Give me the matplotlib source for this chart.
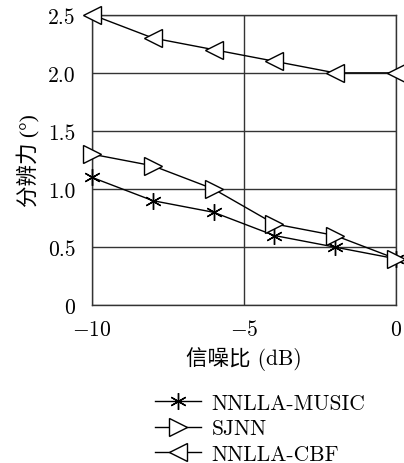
import numpy as np
import matplotlib
matplotlib.use('Agg')
import matplotlib.pyplot as plt

plt.rcParams['font.family'] = ['cmr10', 'Noto Sans CJK SC']
plt.rcParams['mathtext.fontset'] = 'cm'
plt.rcParams['axes.formatter.use_mathtext'] = True
plt.rcParams['axes.unicode_minus'] = True

# Data
snr = [-10, -8, -6, -4, -2, 0]
music = [1.1, 0.9, 0.8, 0.6, 0.5, 0.4]
sjnn = [1.3, 1.2, 1.0, 0.7, 0.6, 0.4]
cbf = [2.5, 2.3, 2.2, 2.1, 2.0, 2.0]

xticks = [-10, -5, 0]
yticks = [0, 0.5, 1.0, 1.5, 2.0, 2.5]
ytick_labels = ['0', '0.5', '1.0', '1.5', '2.0', '2.5']

fig = plt.figure(figsize=(4.04, 4.64), dpi=100)
ax = fig.add_axes([0.228, 0.34, 0.752, 0.626])

lw = 1.0
ax.plot(snr, music, color='black', lw=lw, marker=(6, 2, 0), ms=12,
        mew=1.0, label='NNLLA-MUSIC', clip_on=False, zorder=3)
ax.plot(snr, sjnn, color='black', lw=lw, marker='>', ms=13, mfc='white',
        mew=1.0, label='SJNN', clip_on=False, zorder=3)
ax.plot(snr, cbf, color='black', lw=lw, marker='<', ms=13, mfc='white',
        mew=1.0, label='NNLLA-CBF', clip_on=False, zorder=3)

ax.set_xlim(-10, 0)
ax.set_ylim(0, 2.5)
ax.set_xticks(xticks)
ax.set_yticks(yticks)
ax.set_yticklabels(ytick_labels)
ax.tick_params(length=0, labelsize=15.5)
ax.tick_params(axis='y', pad=12)
ax.tick_params(axis='x', pad=10)
ax.grid(True, color='#333333', lw=1.0)
for s in ax.spines.values():
    s.set_linewidth(1.0)
    s.set_color('#333333')

ax.set_xlabel('信噪比 (dB)', fontsize=15.5, labelpad=5)
ax.set_ylabel('分辨力 (°)', fontsize=15.5, labelpad=5,
              family=['Liberation Serif', 'Noto Sans CJK SC'])

fig.legend(loc='upper left', bbox_to_anchor=(0.356, 0.174), frameon=False,
           fontsize=15.5, handlelength=2.15, handletextpad=0.5,
           labelspacing=0.28, borderpad=0)

fig.savefig('out.png', dpi=100)
